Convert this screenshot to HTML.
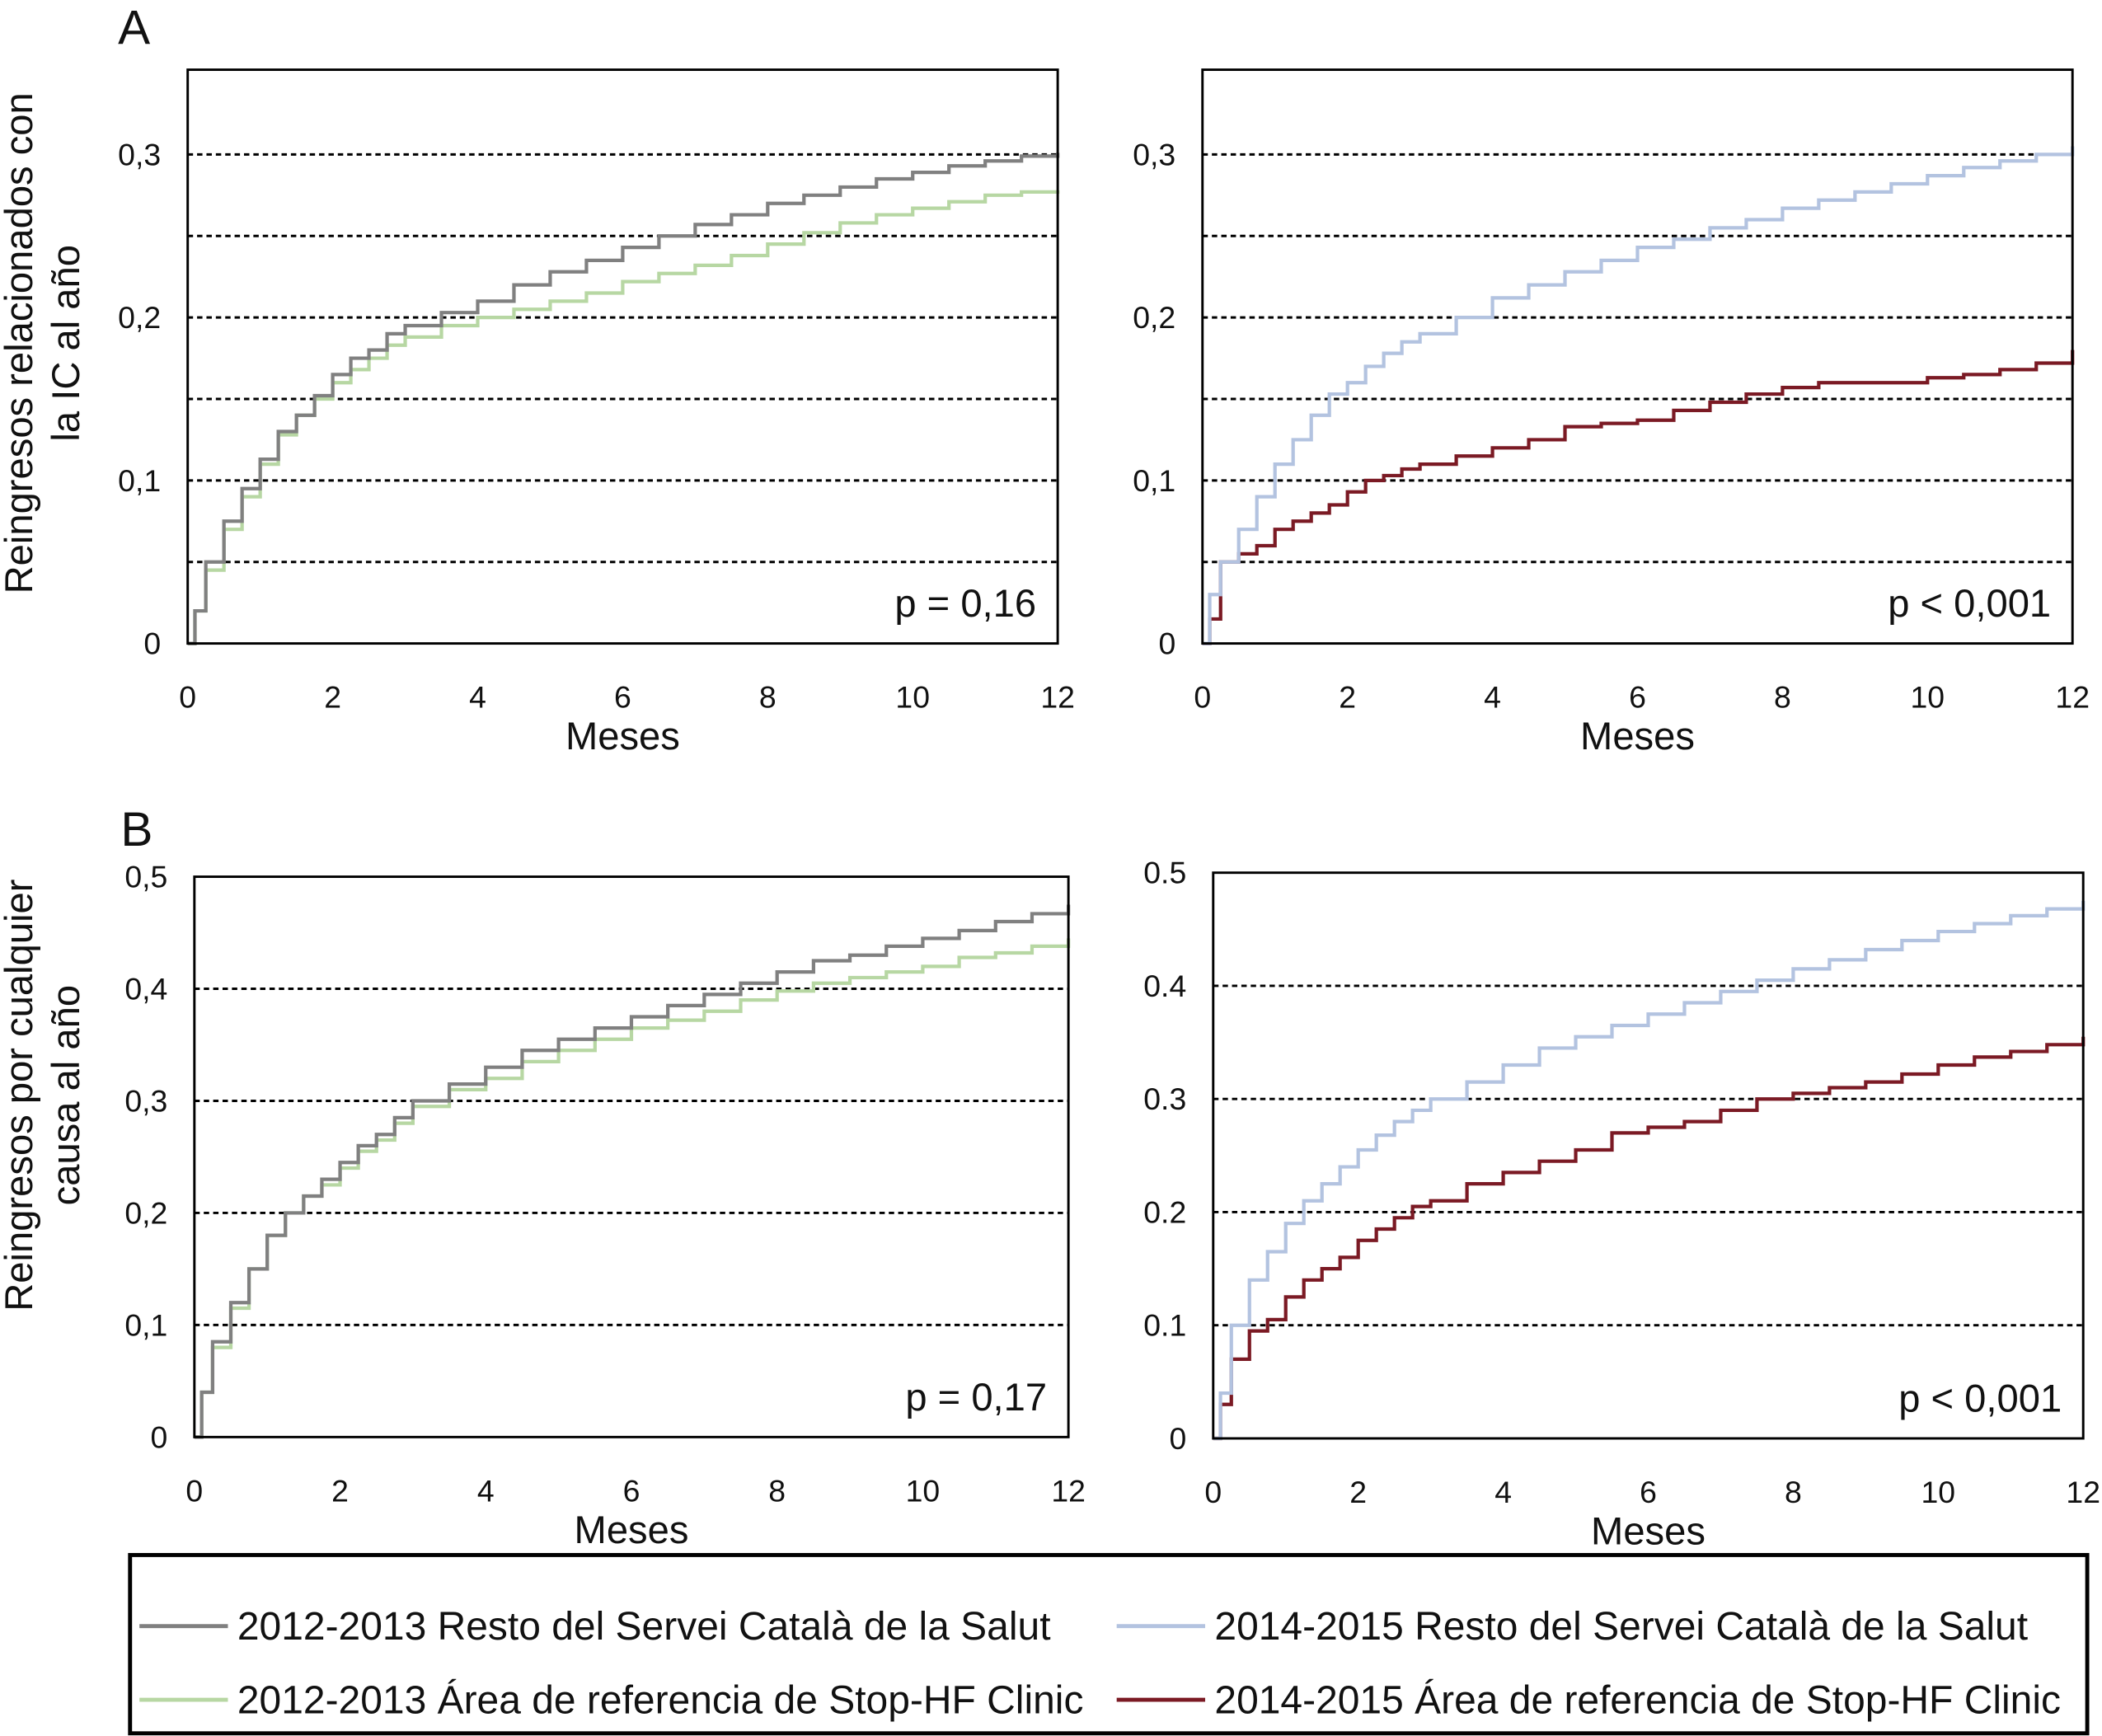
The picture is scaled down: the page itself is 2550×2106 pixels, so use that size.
<!DOCTYPE html>
<html><head><meta charset="utf-8"><style>
html,body{margin:0;padding:0;background:#fff}
svg{display:block}
text{font-family:"Liberation Sans",Arial,sans-serif;fill:#111}
</style></head><body>
<svg id="chart" width="2550" height="2106" viewBox="0 0 1568 1295" xmlns="http://www.w3.org/2000/svg">
<g id="root"></g>
</svg>
<script>
const months = [0,0.1,0.25,0.5,0.75,1,1.25,1.5,1.75,2,2.25,2.5,2.75,3,3.5,4,4.5,5,5.5,6,6.5,7,7.5,8,8.5,9,9.5,10,10.5,11,11.5,12];
const aGray  = [0,0.02,0.05,0.075,0.095,0.113,0.13,0.14,0.152,0.165,0.175,0.18,0.19,0.195,0.203,0.21,0.22,0.228,0.235,0.243,0.25,0.257,0.263,0.27,0.275,0.28,0.285,0.289,0.293,0.296,0.299,0.301];
const aGreen = [0,0.02,0.045,0.07,0.09,0.11,0.128,0.14,0.15,0.16,0.168,0.175,0.183,0.188,0.195,0.2,0.205,0.21,0.215,0.222,0.227,0.232,0.238,0.245,0.252,0.258,0.263,0.267,0.271,0.275,0.277,0.278];
const aBlue  = [0,0.03,0.05,0.07,0.09,0.11,0.125,0.14,0.153,0.16,0.17,0.178,0.185,0.19,0.2,0.212,0.22,0.228,0.235,0.243,0.248,0.255,0.26,0.267,0.272,0.277,0.282,0.287,0.292,0.296,0.3,0.305];
const aRed   = [0,0.015,0.05,0.055,0.06,0.07,0.075,0.08,0.085,0.093,0.1,0.103,0.107,0.11,0.115,0.12,0.125,0.133,0.135,0.137,0.143,0.148,0.153,0.157,0.16,0.16,0.16,0.163,0.165,0.168,0.172,0.18];
const bGray  = [0,0.04,0.085,0.12,0.15,0.18,0.2,0.215,0.23,0.245,0.26,0.27,0.285,0.3,0.315,0.33,0.345,0.355,0.365,0.375,0.385,0.395,0.405,0.415,0.425,0.43,0.438,0.445,0.452,0.46,0.467,0.475];
const bGreen = [0,0.04,0.08,0.115,0.15,0.18,0.2,0.215,0.225,0.24,0.255,0.265,0.28,0.295,0.31,0.32,0.335,0.345,0.355,0.365,0.372,0.38,0.39,0.398,0.405,0.41,0.415,0.42,0.428,0.432,0.438,0.445];
const bBlue  = [0,0.04,0.1,0.14,0.165,0.19,0.21,0.225,0.24,0.255,0.268,0.28,0.29,0.3,0.315,0.33,0.345,0.355,0.365,0.375,0.385,0.395,0.405,0.415,0.423,0.432,0.44,0.448,0.455,0.462,0.468,0.475];
const bRed   = [0,0.03,0.07,0.095,0.105,0.125,0.14,0.15,0.16,0.175,0.185,0.195,0.205,0.21,0.225,0.235,0.245,0.255,0.27,0.275,0.28,0.29,0.3,0.305,0.31,0.315,0.322,0.33,0.337,0.342,0.348,0.355];
const xTicks = [0,2,4,6,8,10,12];
const aYTicks = [0,0.1,0.2,0.3];
const aYLabelsL = ["0","0,1","0,2","0,3"];
const bYTicks = [0,0.1,0.2,0.3,0.4,0.5];
const bYLabelsL = ["0","0,1","0,2","0,3","0,4","0,5"];
const bYLabelsR = ["0","0.1","0.2","0.3","0.4","0.5"];
const aGrid = [0.05,0.1,0.15,0.2,0.25,0.3];
const bGrid = [0.1,0.2,0.3,0.4];

const NS="http://www.w3.org/2000/svg";
const root=document.getElementById('root');
function el(tag,attrs,parent,txt){const e=document.createElementNS(NS,tag);for(const k in attrs)e.setAttribute(k,attrs[k]);if(txt!==undefined)e.textContent=txt;(parent||root).appendChild(e);return e;}

const COL={gray:"#808080",green:"#b7d7a3",blue:"#b3c3e0",red:"#7b1a24"};

function panel(name,box,yMax,yTicks,yLabels,grid,series,pText){
  const g=el('g',{});
  
  
  const sx=v=>box.x0+(v/12)*(box.x1-box.x0);
  const sy=v=>box.y1-(v/yMax)*(box.y1-box.y0);
  grid.forEach(v=>{
    const l=el('line',{x1:box.x0,x2:box.x1,y1:sy(v),y2:sy(v),stroke:"#000","stroke-width":1.8,"stroke-dasharray":"4,3"},g);
    
    
  });
  series.forEach(s=>{
    let d="M"+sx(months[0])+","+sy(s.vals[0]);
    for(let i=1;i<months.length;i++){d+=" H"+sx(months[i])+" V"+sy(s.vals[i]);}
    const p=el('path',{d:d,fill:"none",stroke:s.color,"stroke-width":2.6},g);
    
    
  });
  const r=el('rect',{x:box.x0,y:box.y0,width:box.x1-box.x0,height:box.y1-box.y0,fill:"none",stroke:"#000","stroke-width":1.8},g);
  
  
  yTicks.forEach((v,i)=>{
    const t=el('text',{x:box.x0-20,y:sy(v)+8,"text-anchor":"end","font-size":23},g,yLabels[i]);
    
    
  });
  xTicks.forEach(v=>{
    const t=el('text',{x:sx(v),y:box.y1+48,"text-anchor":"middle","font-size":23},g,String(v));
    
    
  });
  const xt=el('text',{x:(box.x0+box.x1)/2,y:box.y1+79,"text-anchor":"middle","font-size":29},g,"Meses");
  
  
  const pt=el('text',{x:box.x1-16,y:box.y1-20,"text-anchor":"end","font-size":29},g,pText);
  
  
}

panel('panel-a-left',{x0:140,x1:789,y0:52,y1:480},0.352,aYTicks,aYLabelsL,aGrid,
  [{vals:aGreen,color:COL.green,name:'series-2012-stophf'},{vals:aGray,color:COL.gray,name:'series-2012-resto'}],"p = 0,16");
panel('panel-a-right',{x0:897,x1:1546,y0:52,y1:480},0.352,aYTicks,aYLabelsL,aGrid,
  [{vals:aRed,color:COL.red,name:'series-2014-stophf'},{vals:aBlue,color:COL.blue,name:'series-2014-resto'}],"p < 0,001");
panel('panel-b-left',{x0:145,x1:797,y0:654,y1:1072},0.5,bYTicks,bYLabelsL,bGrid,
  [{vals:bGreen,color:COL.green,name:'series-2012-stophf'},{vals:bGray,color:COL.gray,name:'series-2012-resto'}],"p = 0,17");
panel('panel-b-right',{x0:905,x1:1554,y0:651,y1:1073},0.5,bYTicks,bYLabelsR,bGrid,
  [{vals:bRed,color:COL.red,name:'series-2014-stophf'},{vals:bBlue,color:COL.blue,name:'series-2014-resto'}],"p < 0,001");

let t;
t=el('text',{x:88,y:33,"font-size":36},root,"A");


t=el('text',{x:90,y:631,"font-size":36},root,"B");


t=el('text',{"text-anchor":"middle","font-size":29,transform:"translate(24,256) rotate(-90)"},root,"Reingresos relacionados con");


t=el('text',{"text-anchor":"middle","font-size":29,transform:"translate(59,256) rotate(-90)"},root,"la IC al año");


t=el('text',{"text-anchor":"middle","font-size":29,transform:"translate(24,817) rotate(-90)"},root,"Reingresos por cualquier");


t=el('text',{"text-anchor":"middle","font-size":29,transform:"translate(59,817) rotate(-90)"},root,"causa al año");



const lg=el('g',{});


const lr=el('rect',{x:97,y:1160,width:1460,height:133,fill:"none",stroke:"#000","stroke-width":3},lg);


const legendItems=[
  {x:104,y:1213,c:COL.gray,t:"2012-2013 Resto del Servei Català de la Salut"},
  {x:104,y:1268,c:COL.green,t:"2012-2013 Área de referencia de Stop-HF Clinic"},
  {x:833,y:1213,c:COL.blue,t:"2014-2015 Resto del Servei Català de la Salut"},
  {x:833,y:1268,c:COL.red,t:"2014-2015 Área de referencia de Stop-HF Clinic"}];
legendItems.forEach(it=>{
  const ge=el('g',{},lg);
  
  
  el('line',{x1:it.x,x2:it.x+66,y1:it.y,y2:it.y,stroke:it.c,"stroke-width":3},ge);
  el('text',{x:it.x+73,y:it.y+10,"font-size":29.5},ge,it.t);
});
</script>
</body></html>
